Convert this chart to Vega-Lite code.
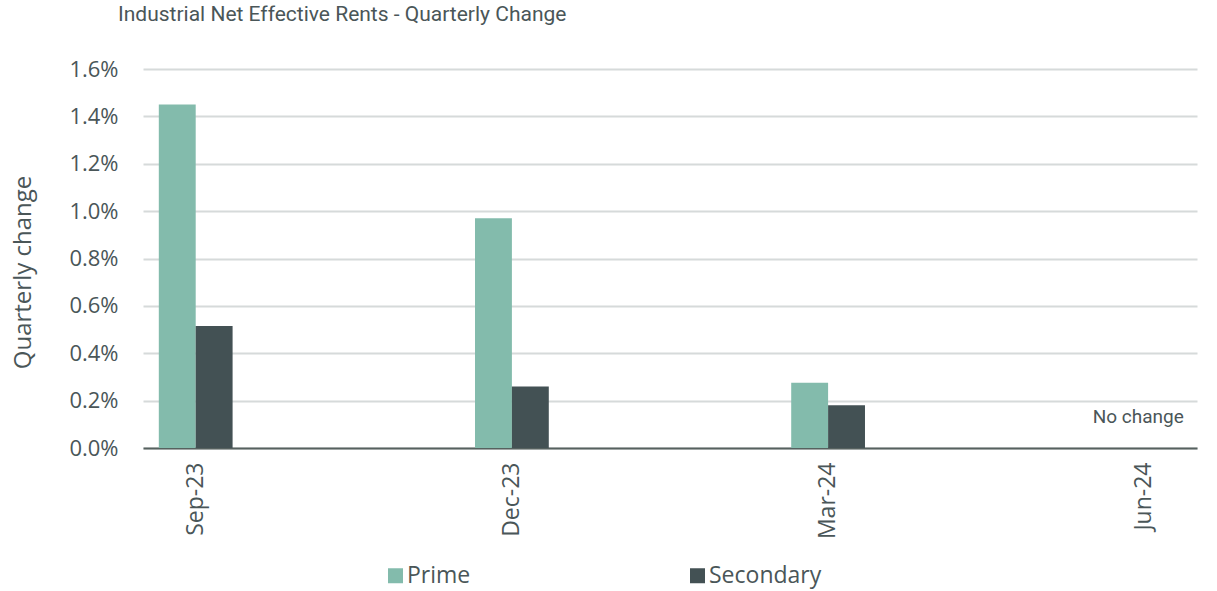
{
  "$schema": "https://vega.github.io/schema/vega-lite/v6.json",
  "width": 1054,
  "height": 379,
  "autosize": {"type": "none"},
  "padding": {"left": 143, "top": 69, "right": 20, "bottom": 143},
  "background": "white",
  "title": {
    "text": "Industrial Net Effective Rents - Quarterly Change",
    "anchor": "start",
    "frame": "group",
    "font": "Roboto",
    "fontSize": 21,
    "fontWeight": "normal",
    "color": "#4a5658",
    "dx": -25,
    "offset": 33
  },
  "config": {
    "view": {"stroke": null},
    "axis": {"labelColor": "#4a5658", "titleColor": "#4a5658"}
  },
  "datasets": {
    "rents": [
      {"month": "Sep-23", "series": "Prime", "change": 0.0145},
      {"month": "Sep-23", "series": "Secondary", "change": 0.00515},
      {"month": "Dec-23", "series": "Prime", "change": 0.0097},
      {"month": "Dec-23", "series": "Secondary", "change": 0.0026},
      {"month": "Mar-24", "series": "Prime", "change": 0.00275},
      {"month": "Mar-24", "series": "Secondary", "change": 0.0018},
      {"month": "Jun-24", "series": "Prime", "change": 0},
      {"month": "Jun-24", "series": "Secondary", "change": 0}
    ],
    "notes": [
      {"month": "Jun-24", "label": "No change"}
    ]
  },
  "layer": [
    {
      "data": {"name": "rents"},
      "mark": {"type": "bar"},
      "encoding": {
        "x": {
          "field": "month",
          "type": "nominal",
          "sort": null,
          "scale": {
            "domain": ["Sep-23", "Oct-23", "Nov-23", "Dec-23", "Jan-24", "Feb-24", "Mar-24", "Apr-24", "May-24", "Jun-24"],
            "paddingInner": 0.3,
            "paddingOuter": 0.15
          },
          "axis": {
            "title": null,
            "values": ["Sep-23", "Dec-23", "Mar-24", "Jun-24"],
            "labelAngle": -90,
            "labelFont": "Open Sans",
            "labelFontSize": 23,
            "labelPadding": 14,
            "ticks": false,
            "domainColor": "#56615f",
            "domainWidth": 2,
            "grid": false
          }
        },
        "xOffset": {
          "field": "series",
          "type": "nominal",
          "scale": {"paddingInner": 0, "paddingOuter": 0}
        },
        "y": {
          "field": "change",
          "type": "quantitative",
          "scale": {"domain": [0, 0.016], "nice": false},
          "axis": {
            "title": "Quarterly change",
            "titleFont": "Open Sans",
            "titleFontSize": 24,
            "titleFontWeight": "normal",
            "titleX": -120,
            "titleY": 203,
            "titleBaseline": "middle",
            "format": ".1%",
            "values": [0, 0.002, 0.004, 0.006, 0.008, 0.01, 0.012, 0.014, 0.016],
            "labelOverlap": false,
            "labelFont": "Open Sans",
            "labelFontSize": 22,
            "labelPadding": 25,
            "ticks": false,
            "domain": false,
            "gridColor": "#d6dada",
            "gridWidth": 2
          }
        },
        "color": {
          "field": "series",
          "type": "nominal",
          "scale": {"domain": ["Prime", "Secondary"], "range": ["#83bbac", "#435154"]},
          "legend": {
            "title": null,
            "orient": "none",
            "direction": "horizontal",
            "legendX": 241,
            "legendY": 495,
            "symbolType": "square",
            "symbolSize": 225,
            "symbolStrokeWidth": 0,
            "labelFont": "Open Sans",
            "labelFontSize": 23,
            "labelColor": "#4a5658",
            "labelOffset": 0,
            "columnPadding": 215
          }
        }
      }
    },
    {
      "data": {"name": "notes"},
      "mark": {
        "type": "text",
        "font": "Roboto",
        "fontSize": 19,
        "color": "#4a5658",
        "align": "center",
        "baseline": "middle",
        "dx": -6,
        "dy": -31
      },
      "encoding": {
        "x": {"field": "month", "type": "nominal", "sort": null},
        "y": {"datum": 0, "type": "quantitative"},
        "text": {"field": "label"}
      }
    }
  ]
}
